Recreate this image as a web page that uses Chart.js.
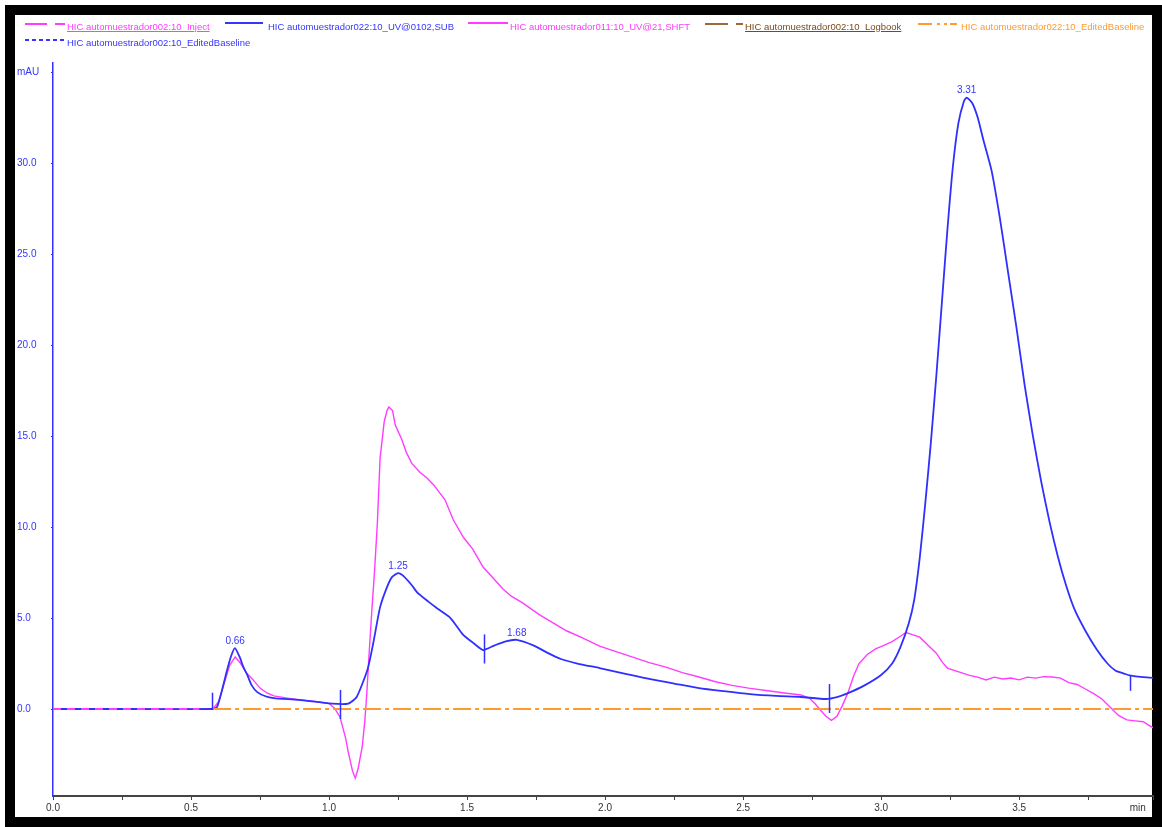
<!DOCTYPE html>
<html>
<head>
<meta charset="utf-8">
<script src="https://cdn.jsdelivr.net/npm/chart.js@4"></script>
<style>
    html, body { margin: 0; padding: 0; background: #fff; }
    #frame { position: absolute; left: 5px; top: 5px; width: 1137px; height: 802px; border: 10px solid #000; background: #fff; }
    #chart { position: absolute; left: 0; top: 0; }
    .lg { position: absolute; font-family: "Liberation Sans", Arial, sans-serif; font-size: 9.5px; line-height: 10px; white-space: nowrap; }
    .seg { position: absolute; height: 2px; }
</style>
</head>
<body>
<div id="frame"></div>
<canvas id="chart" width="1162" height="827"></canvas>

<div class="seg" style="left:25px;top:23px;width:22px;background:#ff3cff"></div>
<div class="seg" style="left:55px;top:23px;width:10px;background:#ff3cff"></div>
<span class="lg" style="left:67px;top:22px;color:#ff3cff;text-decoration:underline">HIC automuestrador002:10_Inject</span>

<div class="seg" style="left:225px;top:22px;width:38px;background:#3535ff"></div>
<span class="lg" style="left:268px;top:22px;color:#3535ff">HIC automuestrador022:10_UV@0102,SUB</span>

<div class="seg" style="left:468px;top:22px;width:40px;background:#ff3cff"></div>
<span class="lg" style="left:510px;top:22px;color:#ff3cff">HIC automuestrador011:10_UV@21,SHFT</span>

<div class="seg" style="left:705px;top:23px;width:23px;background:#9a6a3a"></div>
<div class="seg" style="left:736px;top:23px;width:7px;background:#9a6a3a"></div>
<span class="lg" style="left:745px;top:22px;color:#7a4a1a;text-decoration:underline">HIC automuestrador002:10_Logbook</span>

<div class="seg" style="left:918px;top:23px;width:14px;background:#ff9a30"></div>
<div class="seg" style="left:937px;top:23px;width:3px;background:#ff9a30"></div>
<div class="seg" style="left:944px;top:23px;width:3px;background:#ff9a30"></div>
<div class="seg" style="left:950px;top:23px;width:7px;background:#ff9a30"></div>
<span class="lg" style="left:961px;top:22px;color:#ff9a30">HIC automuestrador022:10_EditedBaseline</span>

<div class="seg" style="left:25px;top:39px;width:40px;background:repeating-linear-gradient(90deg,#3535ff 0 4px,transparent 4px 7px)"></div>
<span class="lg" style="left:67px;top:38px;color:#3535ff">HIC automuestrador002:10_EditedBaseline</span>

<script>
// retention time (min) and signal (mAU), UV@0102,SUB
const subTime = [0, 0.3, 0.58, 0.594, 0.61, 0.63, 0.645, 0.659, 0.675, 0.69, 0.703, 0.72, 0.74, 0.77, 0.8, 0.89, 1.01, 1.07,
    1.1, 1.14, 1.16, 1.185, 1.21, 1.228, 1.25, 1.27, 1.3, 1.32, 1.36, 1.39, 1.44, 1.486, 1.525, 1.558, 1.6, 1.64, 1.68, 1.74,
    1.79, 1.84, 1.9, 1.98, 2.07, 2.16, 2.25, 2.34, 2.43, 2.525, 2.62, 2.71, 2.8, 2.84, 2.88, 2.94, 3.0, 3.04, 3.07, 3.1, 3.12,
    3.14, 3.16, 3.18, 3.2, 3.22, 3.24, 3.26, 3.28, 3.3, 3.31, 3.33, 3.35, 3.37, 3.4, 3.43, 3.46, 3.49, 3.52, 3.55, 3.58, 3.61,
    3.64, 3.67, 3.7, 3.74, 3.78, 3.82, 3.85, 3.88, 3.9, 3.95, 4.0];
const subValue = [0, 0, 0, 0.1, 0.9, 2.1, 2.9, 3.35, 2.9, 2.3, 1.9, 1.3, 0.93, 0.7, 0.6, 0.5, 0.3, 0.3,
    0.66, 2.2, 3.6, 5.6, 6.7, 7.25, 7.47, 7.3, 6.8, 6.4, 5.9, 5.55, 5.0, 4.07, 3.6, 3.24, 3.5, 3.72, 3.8, 3.5,
    3.1, 2.75, 2.5, 2.25, 1.95, 1.65, 1.4, 1.15, 0.98, 0.82, 0.72, 0.66, 0.55, 0.65, 0.87, 1.3, 1.87, 2.5, 3.4, 4.7, 6.0,
    8.3, 11.3, 14.6, 18.3, 22.3, 26.3, 29.8, 32.2, 33.4, 33.6, 33.3, 32.5, 31.3, 29.6, 27.0, 24.0, 21.0, 17.8, 15.0, 12.5, 10.3,
    8.4, 6.8, 5.5, 4.3, 3.3, 2.5, 2.1, 1.95, 1.85, 1.75, 1.7];

// UV@21,SHFT
const shftTime = [0, 0.58, 0.6, 0.62, 0.64, 0.66, 0.68, 0.7, 0.725, 0.75, 0.775, 0.8, 0.85, 0.9, 0.95, 1.0, 1.02, 1.04, 1.06,
    1.07, 1.085, 1.095, 1.105, 1.12, 1.13, 1.137, 1.145, 1.155, 1.165, 1.175, 1.185, 1.2, 1.21, 1.217, 1.23, 1.24, 1.264,
    1.28, 1.3, 1.33, 1.355, 1.38, 1.42, 1.45, 1.486, 1.52, 1.558, 1.6, 1.63, 1.66, 1.7, 1.76, 1.81, 1.86, 1.92, 1.98, 2.04,
    2.1, 2.16, 2.22, 2.28, 2.34, 2.4, 2.46, 2.52, 2.59, 2.65, 2.71, 2.74, 2.76, 2.78, 2.8, 2.82, 2.84, 2.86, 2.88, 2.9, 2.92,
    2.95, 2.98, 3.01, 3.04, 3.07, 3.09, 3.11, 3.14, 3.17, 3.2, 3.22, 3.24, 3.27, 3.29, 3.32, 3.35, 3.38, 3.41, 3.44, 3.47,
    3.5, 3.53, 3.56, 3.59, 3.62, 3.65, 3.68, 3.71, 3.74, 3.77, 3.8, 3.83, 3.86, 3.89, 3.92, 3.95, 3.97, 4.0];
const shftValue = [0, 0.02, 0.4, 1.4, 2.4, 2.86, 2.5, 2.0, 1.6, 1.15, 0.88, 0.72, 0.6, 0.5, 0.42, 0.3, 0.05, -0.45, -1.6,
    -2.4, -3.4, -3.8, -3.3, -2.1, -0.6, 0.9, 3.0, 5.4, 7.6, 10.2, 13.8, 15.8, 16.4, 16.6, 16.4, 15.6, 14.8,
    14.1, 13.5, 13.0, 12.7, 12.3, 11.5, 10.4, 9.45, 8.8, 7.8, 7.1, 6.6, 6.2, 5.85, 5.2, 4.75, 4.3, 3.9, 3.46, 3.15,
    2.85, 2.55, 2.3, 2.0, 1.76, 1.5, 1.3, 1.15, 1.0, 0.88, 0.77, 0.6, 0.3, -0.05, -0.4, -0.62, -0.4, 0.2, 0.9, 1.8, 2.5,
    3.0, 3.3, 3.5, 3.7, 4.0, 4.2, 4.1, 3.95, 3.5, 3.07, 2.6, 2.25, 2.1, 2.0, 1.85, 1.75, 1.6, 1.75, 1.65, 1.7,
    1.6, 1.75, 1.7, 1.78, 1.76, 1.7, 1.45, 1.35, 1.1, 0.85, 0.55, 0.1, -0.35, -0.6, -0.65, -0.7, -0.9, -1.15];

// Inject trace and edited baseline
const injectTime = [0, 0.53];
const injectValue = [0, 0];
const baselineTime = [0.58, 4.0];
const baselineValue = [0, 0];

// peak labels
const peakTimes = [0.66, 1.25, 1.68, 3.31];
const peakValues = [3.35, 7.47, 3.8, 33.6];
const peakLabels = ["0.66", "1.25", "1.68", "3.31"];

// integration marks (time, top, bottom)
const markTimes = [0.576, 1.04, 1.56, 2.81, 3.90];
const markTop = [0.9, 1.05, 4.1, 1.37, 1.87];
const markBottom = [0, -0.55, 2.5, -0.22, 1.0];

// axis ticks
const yTickValues = [0, 5, 10, 15, 20, 25, 30, 35];
const yTickLabels = ["0.0", "5.0", "10.0", "15.0", "20.0", "25.0", "30.0", "mAU"];
const xUnitLabel = "min";

function pts(xs, ys) {
    return xs.map((x, i) => ({ x: x, y: ys[i] }));
}

const annotate = {
    id: "annotate",
    afterDatasetsDraw(chart) {
        const ctx = chart.ctx;
        const xs = chart.scales.x;
        const ys = chart.scales.y;
        ctx.save();
        ctx.strokeStyle = "#2f2fff";
        ctx.lineWidth = 1.5;
        markTimes.forEach((t, i) => {
            const px = Math.round(xs.getPixelForValue(t)) + 0.5;
            ctx.beginPath();
            ctx.moveTo(px, ys.getPixelForValue(markTop[i]));
            ctx.lineTo(px, ys.getPixelForValue(markBottom[i]));
            ctx.stroke();
        });
        ctx.fillStyle = "#3535ff";
        ctx.font = "10px 'Liberation Sans', Arial, sans-serif";
        ctx.textAlign = "center";
        ctx.textBaseline = "middle";
        peakTimes.forEach((t, i) => {
            ctx.fillText(peakLabels[i], xs.getPixelForValue(t), ys.getPixelForValue(peakValues[i]) - 7);
        });
        ctx.fillStyle = "#333";
        ctx.fillText(xUnitLabel, xs.getPixelForValue(3.93), ys.bottom + 12);
        ctx.restore();
    },
};

const ctx = document.getElementById("chart").getContext("2d");
new Chart(ctx, {
    type: "line",
    data: {
        datasets: [
            {
                label: "HIC automuestrador002:10_Inject",
                data: pts(injectTime, injectValue),
                borderColor: "#ff3cff",
                borderWidth: 2,
                borderDash: [8, 6],
                pointRadius: 0,
            },
            {
                label: "HIC automuestrador022:10_EditedBaseline",
                data: pts(baselineTime, baselineValue),
                borderColor: "#ff9a30",
                borderWidth: 2,
                borderDash: [18, 4, 4, 4],
                pointRadius: 0,
            },
            {
                label: "HIC automuestrador022:10_UV@0102,SUB",
                data: pts(subTime, subValue),
                borderColor: "#2f2fff",
                borderWidth: 1.8,
                pointRadius: 0,
                tension: 0.2,
            },
            {
                label: "HIC automuestrador011:10_UV@21,SHFT",
                data: pts(shftTime, shftValue),
                borderColor: "#ff3cff",
                borderWidth: 1.4,
                pointRadius: 0,
                tension: 0,
            },
        ],
    },
    options: {
        responsive: false,
        animation: false,
        layout: {
            padding: { left: 17, right: 9, top: 63, bottom: 11 },
        },
        plugins: {
            legend: { display: false },
            tooltip: { enabled: false },
        },
        scales: {
            x: {
                type: "linear",
                min: 0,
                max: 3.985,
                afterFit: (scale) => { scale.height = 20; },
                border: { color: "#444", width: 2 },
                grid: { drawOnChartArea: false, tickLength: 4, color: "#444" },
                ticks: {
                    stepSize: 0.25,
                    autoSkip: false,
                    maxRotation: 0,
                    padding: 2,
                    color: "#333",
                    font: { family: "'Liberation Sans', Arial, sans-serif", size: 10 },
                    callback: (value) => (Math.abs(value * 2 - Math.round(value * 2)) < 1e-6 ? value.toFixed(1) : ""),
                },
            },
            y: {
                type: "linear",
                min: -4.78,
                max: 35.5,
                afterFit: (scale) => { scale.width = 36; },
                afterBuildTicks: (scale) => { scale.ticks = yTickValues.map((v) => ({ value: v })); },
                border: { color: "#3030ff", width: 1.5 },
                grid: { drawOnChartArea: false, tickLength: 2, color: "#3030ff" },
                ticks: {
                    crossAlign: "far",
                    color: "#3535ff",
                    font: { family: "'Liberation Sans', Arial, sans-serif", size: 10 },
                    callback: (value) => {
                        const i = yTickValues.indexOf(value);
                        return i >= 0 ? yTickLabels[i] : "";
                    },
                },
            },
        },
    },
    plugins: [annotate],
});
</script>
</body>
</html>
